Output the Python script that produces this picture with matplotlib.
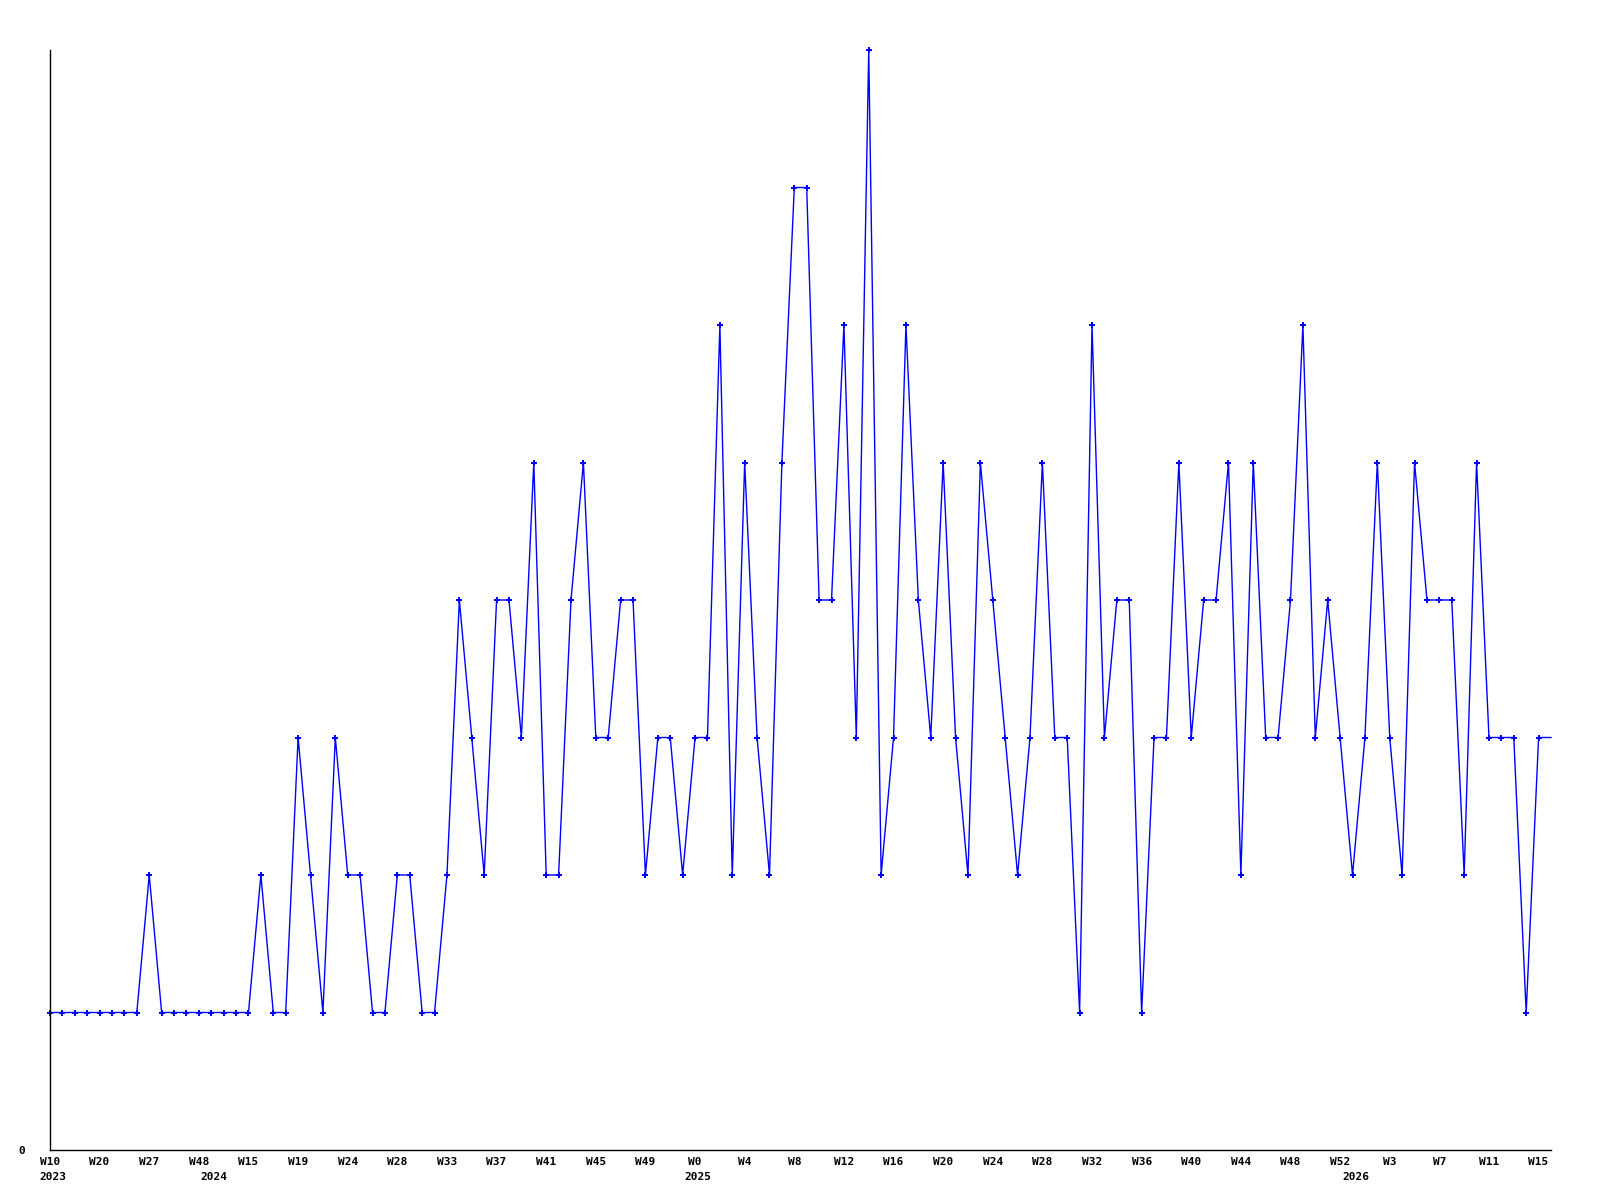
import matplotlib
matplotlib.use("Agg")
import matplotlib.pyplot as plt
from matplotlib.transforms import ScaledTranslation, blended_transform_factory

# weekly counts (sequential entries)
values = [1, 1, 1, 1, 1, 1, 1, 1, 2, 1,
          1, 1, 1, 1, 1, 1, 1, 2, 1, 1,
          3, 2, 1, 3, 2, 2, 1, 1, 2, 2,
          1, 1, 2, 4, 3, 2, 4, 4, 3, 5,
          2, 2, 4, 5, 3, 3, 4, 4, 2, 3,
          3, 2, 3, 3, 6, 2, 5, 3, 2, 5,
          7, 7, 4, 4, 6, 3, 8, 2, 3, 6,
          4, 3, 5, 3, 2, 5, 4, 3, 2, 3,
          5, 3, 3, 1, 6, 3, 4, 4, 1, 3,
          3, 5, 3, 4, 4, 5, 2, 5, 3, 3,
          4, 6, 3, 4, 3, 2, 3, 5, 3, 2,
          5, 4, 4, 4, 2, 5, 3, 3, 3, 1,
          3, 3]

week_labels = ["W10", "W20", "W27", "W48", "W15", "W19", "W24", "W28", "W33",
               "W37", "W41", "W45", "W49", "W0", "W4", "W8", "W12", "W16",
               "W20", "W24", "W28", "W32", "W36", "W40", "W44", "W48", "W52",
               "W3", "W7", "W11", "W15"]
week_label_index = list(range(0, 121, 4))

year_labels = ["2023", "2024", "2025", "2026"]
year_label_index = [0, 13, 52, 105]

W, H = 1600, 1200
fig = plt.figure(figsize=(16, 12), dpi=100)
fig.patch.set_facecolor("white")
ax = fig.add_axes([50 / W, 50 / H, 1501 / W, 1100 / H])

x = list(range(len(values)))
ax.plot(x, values, color="#0000FF", linewidth=1.0, marker="P",
        markersize=4, markeredgewidth=0,
        markevery=list(range(len(values) - 1)), clip_on=False)

ax.set_xlim(0, len(values) - 1)
ax.set_ylim(0, 8)

for s in ["top", "right"]:
    ax.spines[s].set_visible(False)
for s in ["left", "bottom"]:
    ax.spines[s].set_color("black")
    ax.spines[s].set_linewidth(1.0)

mono = {"family": "DejaVu Sans Mono", "weight": "bold", "size": 8}

ax.set_xticks(week_label_index)
ax.set_xticklabels(week_labels, fontdict=mono)
ax.tick_params(axis="x", length=0, pad=5)

ax.set_yticks([0])
ax.set_yticklabels(["0"], fontdict=mono)
ax.tick_params(axis="y", length=0, pad=18)

trans = blended_transform_factory(ax.transData, ax.transAxes) + \
    ScaledTranslation(-10.5 / 100, -22 / 100, fig.dpi_scale_trans)
for lab, idx in zip(year_labels, year_label_index):
    ax.text(idx, 0, lab, transform=trans, ha="left", va="top", **mono)

fig.savefig("out.png", dpi=100, facecolor="white")
